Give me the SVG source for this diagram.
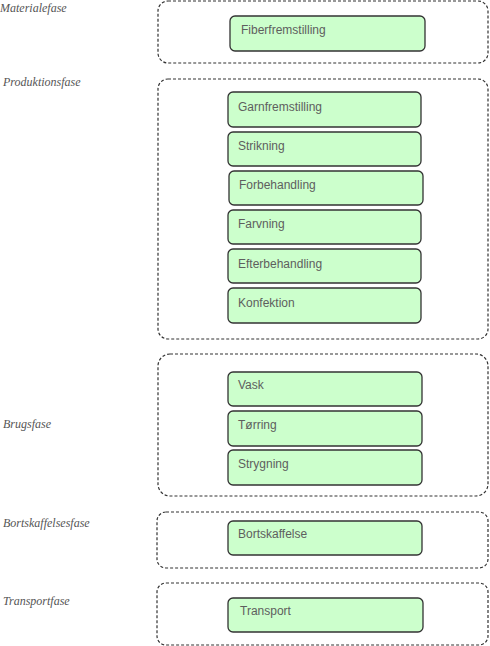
<svg xmlns="http://www.w3.org/2000/svg" width="490" height="646" viewBox="0 0 490 646">
<style>
.phase{fill:none;stroke:#333;stroke-width:1.2;stroke-dasharray:3 2}
.node{fill:#ccffcc;stroke:#333;stroke-width:1.3}
.nt{font-family:"Liberation Sans",Arial,sans-serif;font-size:12px;fill:#5e5e5e}
.lbl{font-family:"Liberation Serif","Times New Roman",serif;font-style:italic;font-size:12px;fill:#555}
</style>
<rect width="490" height="646" fill="#fff"/>
<g id="phases">
<g id="materialefase"><rect class="phase" x="158" y="1" width="330" height="62" rx="10"/><text class="lbl" x="0" y="12">Materialefase</text></g>
<g id="produktionsfase"><rect class="phase" x="158" y="79" width="330" height="260" rx="10"/><text class="lbl" x="3" y="86">Produktionsfase</text></g>
<g id="brugsfase"><rect class="phase" x="158" y="354" width="330" height="142" rx="12"/><text class="lbl" x="3" y="428">Brugsfase</text></g>
<g id="bortskaffelsesfase"><rect class="phase" x="157" y="512" width="331" height="56" rx="9"/><text class="lbl" x="3" y="527">Bortskaffelsesfase</text></g>
<g id="transportfase"><rect class="phase" x="157" y="583" width="331" height="62" rx="9"/><text class="lbl" x="3" y="605">Transportfase</text></g>
</g>
<g id="connectors"></g>
<g id="n-fiber"><rect class="node" x="230" y="16" width="195" height="35" rx="5"/><text class="nt" x="241" y="34">Fiberfremstilling</text></g>
<g id="n-garn"><rect class="node" x="228" y="92" width="193" height="35" rx="5"/><text class="nt" x="238" y="111">Garnfremstilling</text></g>
<g id="n-strik"><rect class="node" x="228" y="132" width="193" height="34" rx="5"/><text class="nt" x="238" y="150">Strikning</text></g>
<g id="n-forbeh"><rect class="node" x="229" y="171" width="194" height="34" rx="5"/><text class="nt" x="239" y="189">Forbehandling</text></g>
<g id="n-farv"><rect class="node" x="228" y="210" width="193" height="34" rx="5"/><text class="nt" x="238" y="228">Farvning</text></g>
<g id="n-efter"><rect class="node" x="228" y="249" width="193" height="34" rx="5"/><text class="nt" x="238" y="268">Efterbehandling</text></g>
<g id="n-konf"><rect class="node" x="228" y="288" width="193" height="35" rx="5"/><text class="nt" x="238" y="307">Konfektion</text></g>
<g id="n-vask"><rect class="node" x="228" y="372" width="194" height="34" rx="5"/><text class="nt" x="238" y="389">Vask</text></g>
<g id="n-torring"><rect class="node" x="228" y="411" width="194" height="35" rx="5"/><text class="nt" x="238" y="429">Tørring</text></g>
<g id="n-stryg"><rect class="node" x="228" y="450" width="194" height="35" rx="5"/><text class="nt" x="238" y="468">Strygning</text></g>
<g id="n-bort"><rect class="node" x="228" y="521" width="194" height="34" rx="5"/><text class="nt" x="238" y="538">Bortskaffelse</text></g>
<g id="n-trans"><rect class="node" x="228" y="598" width="195" height="34" rx="5"/><text class="nt" x="240" y="615">Transport</text></g>
</svg>
